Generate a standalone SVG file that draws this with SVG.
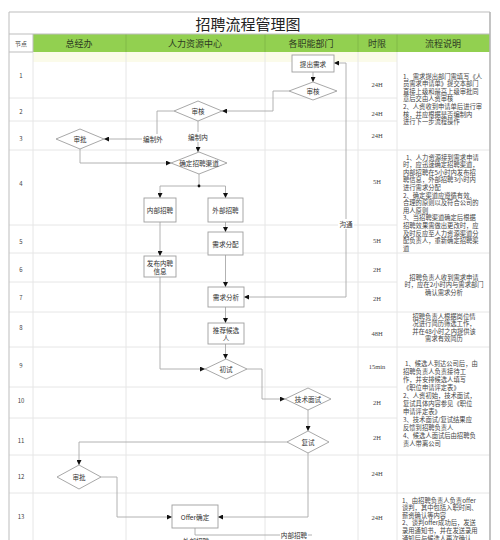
<svg xmlns="http://www.w3.org/2000/svg" width="500" height="540" viewBox="0 0 500 540">
<defs>
<style>
.grid{stroke:#e6e6e6;stroke-width:1;fill:none}
.border{stroke:#bdbdbd;stroke-width:1;fill:none}
.hdr{fill:#92d050}
.hdiv{stroke:#7fb545;stroke-width:0.8}
.ht{font-family:"Noto Sans CJK SC",sans-serif;font-size:9px;fill:#2d3a22;text-anchor:middle;dominant-baseline:central}
.title{font-family:"Noto Sans CJK SC",sans-serif;font-size:15px;fill:#222;text-anchor:middle;dominant-baseline:central}
.box{fill:#fff;stroke:#9e9e9e;stroke-width:0.9}
.nt{font-family:"Noto Sans CJK SC",sans-serif;font-size:6.6px;fill:#333;text-anchor:middle;dominant-baseline:central}
.conn{fill:none;stroke:#a9a9a9;stroke-width:0.9}
.lbl{font-family:"Noto Sans CJK SC",sans-serif;font-size:6.6px;fill:#333;text-anchor:middle;dominant-baseline:central}
.num{font-family:"Noto Sans CJK SC",sans-serif;font-size:6px;fill:#444;text-anchor:middle;dominant-baseline:central}
.tm{font-family:"Liberation Serif",serif;font-size:6.5px;fill:#444;text-anchor:middle;dominant-baseline:central}
.d{font-family:"Noto Sans CJK SC",sans-serif;font-size:6.3px;fill:#444;dominant-baseline:central}
.dc{font-family:"Noto Sans CJK SC",sans-serif;font-size:6.3px;fill:#444;dominant-baseline:central;text-anchor:middle}
</style>
<marker id="ar" viewBox="0 0 10 10" refX="10" refY="5" markerWidth="5" markerHeight="5" markerUnits="userSpaceOnUse" orient="auto-start-reverse">
<path d="M0,0 L10,5 L0,10 z" fill="#111"/>
</marker>
</defs>

<rect width="500" height="540" fill="#fff"/>

<g id="table">
<rect x="33" y="52" width="364" height="10" fill="#fbfbea"/>
<rect class="hdr" x="33" y="34" width="457" height="18"/>
<g class="grid">
<path d="M33 52V540M126 52V540M265 52V540M358 52V540M397 52V540"/>
<path d="M9 98H397M9 121H397M9 150H397M9 225H397M9 253H397M9 282H397M9 312H397M9 347H397M9 387H397M9 418H397M9 455H397M9 493H397"/>
<path d="M397 150H490M397 253H490M397 312H490M397 347H490M397 455H490M397 493H490"/>
</g>
<path class="hdiv" d="M126 34V52M265 34V52M358 34V52M397 34V52"/>
<path class="border" d="M9 12H490M9 34H490M9 52H33"/>
<path class="border" d="M9 12V540M33 34V52"/>
<path d="M490 12V540" stroke="#b5b5b5" stroke-width="1.6"/>
<text class="title" x="248" y="23">招聘流程管理图</text>
<text class="num" x="21" y="43">节点</text>
<text class="ht" x="79" y="43">总经办</text>
<text class="ht" x="195" y="43">人力资源中心</text>
<text class="ht" x="311" y="43">各职能部门</text>
<text class="ht" x="377" y="43">时限</text>
<text class="ht" x="443" y="43">流程说明</text>
</g>

<g id="rownumbers">
<text class="num" x="21" y="75">1</text>
<text class="num" x="21" y="111">2</text>
<text class="num" x="21" y="138">3</text>
<text class="num" x="21" y="183">4</text>
<text class="num" x="21" y="241">5</text>
<text class="num" x="21" y="269">6</text>
<text class="num" x="21" y="297">7</text>
<text class="num" x="21" y="327">8</text>
<text class="num" x="21" y="365">9</text>
<text class="num" x="21" y="400">10</text>
<text class="num" x="21" y="440">11</text>
<text class="num" x="21" y="476">12</text>
<text class="num" x="21" y="516">13</text>
</g>

<g id="timelimits">
<text class="tm" x="377" y="84">24H</text>
<text class="tm" x="377" y="113">24H</text>
<text class="tm" x="377" y="135">24H</text>
<text class="tm" x="377" y="181">5H</text>
<text class="tm" x="377" y="240">5H</text>
<text class="tm" x="377" y="269">2H</text>
<text class="tm" x="377" y="298">2H</text>
<text class="tm" x="377" y="333">48H</text>
<text class="tm" x="377" y="366">15min</text>
<text class="tm" x="377" y="402">2H</text>
<text class="tm" x="377" y="437">2H</text>
<text class="tm" x="377" y="473">24H</text>
<text class="tm" x="377" y="517">24H</text>
</g>

<g id="descriptions">
<text class="d" x="403" y="76">1、需求提出部门需填写《人</text>
<text class="d" x="403" y="83.6">员需求申请单》提交本部门</text>
<text class="d" x="403" y="91.2">直接上级和最高上级审批同</text>
<text class="d" x="403" y="98.8">意后交由人资审核</text>
<text class="d" x="403" y="106.4">2、人资收到申请单后进行审</text>
<text class="d" x="403" y="114">核，并应根据是否编制内</text>
<text class="d" x="403" y="121.6">进行下一步流程操作</text>

<text class="d" x="406" y="157">1、人力资源接到需求申请</text>
<text class="d" x="403" y="164.6">时，应迅速确定招聘渠道，</text>
<text class="d" x="403" y="172.2">内部招聘在5小时内发布招</text>
<text class="d" x="403" y="179.8">聘信息，外部招聘3小时内</text>
<text class="d" x="403" y="187.4">进行需求分配</text>
<text class="d" x="403" y="195">2、确定渠道应遵循有效、</text>
<text class="d" x="403" y="202.6">合理的原则以及符合公司的</text>
<text class="d" x="403" y="210.2">用人原则</text>
<text class="d" x="403" y="217.8">3、当招聘渠道确定后根据</text>
<text class="d" x="403" y="225.4">招聘效果需做出更改时，应</text>
<text class="d" x="403" y="233">及时反应至人力资源渠道分</text>
<text class="d" x="403" y="240.6">配负责人，重新确定招聘渠</text>
<text class="d" x="403" y="248.2">道</text>

<text class="dc" x="444" y="277">招聘负责人收到需求申请</text>
<text class="dc" x="444" y="284.6">时，应在2小时内与需求部门</text>
<text class="dc" x="444" y="292.2">确认需求分析</text>

<text class="dc" x="444" y="316">招聘负责人根据岗位情</text>
<text class="dc" x="444" y="323.5">况进行简历筛选工作，</text>
<text class="dc" x="444" y="331">并在48小时之内提供该</text>
<text class="dc" x="444" y="338.5">需求有效简历</text>

<text class="d" x="405" y="363">1、候选人到达公司后，由</text>
<text class="d" x="403" y="371">招聘负责人负责接待工</text>
<text class="d" x="403" y="379">作，并安排候选人填写</text>
<text class="d" x="403" y="387">《职位申请评定表》</text>
<text class="d" x="403" y="395">2、人资初始，技术面试，</text>
<text class="d" x="403" y="403">复试具体内容参见《职位</text>
<text class="d" x="403" y="411">申请评定表》</text>
<text class="d" x="403" y="419">3、技术面试/复试结果应</text>
<text class="d" x="403" y="427">反馈到招聘负责人</text>
<text class="d" x="403" y="435">4、候选人面试后由招聘负</text>
<text class="d" x="403" y="443">责人带离公司</text>

<text class="d" x="402" y="500">1、由招聘负责人负责offer</text>
<text class="d" x="402" y="507.6">谈判，其中包括入职时间、</text>
<text class="d" x="402" y="515.2">薪资确认等内容</text>
<text class="d" x="402" y="522.8">2、谈判offer成功后，发送</text>
<text class="d" x="402" y="530.4">录用通知书，并在发送录用</text>
<text class="d" x="402" y="538">通知后与候选人再次确认</text>
</g>

<g id="connectors">
<path class="conn" d="M313 72V82" marker-end="url(#ar)"/>
<path class="conn" d="M289 91H273V111H222" marker-end="url(#ar)"/>
<path class="conn" d="M174 111H157V139H104" marker-end="url(#ar)"/>
<path class="conn" d="M198 121V152" marker-end="url(#ar)"/>
<path class="conn" d="M80 149V163H171" marker-end="url(#ar)"/>
<path class="conn" d="M199 174V186M160 186H225.5"/>
<circle cx="199" cy="186" r="1.4" fill="#111"/>
<path class="conn" d="M160 186V198" marker-end="url(#ar)"/>
<path class="conn" d="M225.5 186V198" marker-end="url(#ar)"/>
<path class="conn" d="M225.5 222V232" marker-end="url(#ar)"/>
<path class="conn" d="M225.5 255V287" marker-end="url(#ar)"/>
<path class="conn" d="M244 297H346V63H334" marker-start="url(#ar)" marker-end="url(#ar)"/>
<path class="conn" d="M160 222V256" marker-end="url(#ar)"/>
<path class="conn" d="M160 277V369H205" marker-end="url(#ar)"/>
<path class="conn" d="M225.5 307V323" marker-end="url(#ar)"/>
<path class="conn" d="M225.5 344V359" marker-end="url(#ar)"/>
<path class="conn" d="M247 369H262V399H285" marker-end="url(#ar)"/>
<path class="conn" d="M308 410V431" marker-end="url(#ar)"/>
<path class="conn" d="M287 442H79V465" marker-end="url(#ar)"/>
<path class="conn" d="M101 477H117V517H172" marker-end="url(#ar)"/>
<path class="conn" d="M308 453V517H218" marker-end="url(#ar)"/>
<path class="conn" d="M195 528V535H312"/>
<rect x="142" y="134" width="23" height="10" fill="#fff"/>
<text class="lbl" x="153" y="139">编制外</text>
<rect x="187" y="132" width="23" height="10" fill="#fff"/>
<text class="lbl" x="198" y="137">编制内</text>
<rect x="338" y="219" width="16" height="10" fill="#fff"/>
<text class="lbl" x="346" y="224">沟通</text>
<rect x="280" y="530" width="28" height="10" fill="#fff"/>
<text class="lbl" x="294" y="535">内部招聘</text>
<text class="lbl" x="196" y="541">外部招聘</text>
</g>

<g id="n_tichuxuqiu"><rect class="box" x="292" y="55" width="42" height="17"/><text class="nt" x="313" y="63.5">提出需求</text></g>
<g id="n_shenhe_dept"><polygon class="box" points="289,91 313,82 337,91 313,100"/><text class="nt" x="313" y="91">审核</text></g>
<g id="n_shenhe_hr"><polygon class="box" points="174,111 198,101 222,111 198,121"/><text class="nt" x="198" y="111">审核</text></g>
<g id="n_shenpi1"><polygon class="box" points="56,139 80,129 104,139 80,149"/><text class="nt" x="80" y="139">审批</text></g>
<g id="n_queding"><polygon class="box" points="171,163 199,152 227,163 199,174"/><text class="nt" x="199" y="163">确定招聘渠道</text></g>
<g id="n_neibu"><rect class="box" x="144" y="198" width="32" height="24"/><text class="nt" x="160" y="210">内部招聘</text></g>
<g id="n_waibu"><rect class="box" x="208" y="198" width="35" height="24"/><text class="nt" x="225.5" y="210">外部招聘</text></g>
<g id="n_fenpei"><rect class="box" x="208" y="232" width="35" height="23"/><text class="nt" x="225.5" y="243.5">需求分配</text></g>
<g id="n_fabu"><rect class="box" x="144" y="256" width="32" height="21"/><text class="nt" x="160" y="262.5">发布内聘</text><text class="nt" x="160" y="271">信息</text></g>
<g id="n_fenxi"><rect class="box" x="208" y="287" width="36" height="20"/><text class="nt" x="226" y="297">需求分析</text></g>
<g id="n_tuijian"><rect class="box" x="208" y="323" width="36" height="21"/><text class="nt" x="226" y="329.5">推荐候选</text><text class="nt" x="226" y="338">人</text></g>
<g id="n_chushi"><polygon class="box" points="205,369 226,359 247,369 226,379"/><text class="nt" x="226" y="369">初试</text></g>
<g id="n_jishu"><polygon class="box" points="285,399 308,388 331,399 308,410"/><text class="nt" x="308" y="399">技术面试</text></g>
<g id="n_fushi"><polygon class="box" points="287,442 308,431 329,442 308,453"/><text class="nt" x="308" y="442">复试</text></g>
<g id="n_shenpi2"><polygon class="box" points="57,477 79,465 101,477 79,489"/><text class="nt" x="79" y="477">审批</text></g>
<g id="n_offer"><rect class="box" x="172" y="505" width="46" height="23"/><text class="nt" x="195" y="516.5">Offer确定</text></g>
</svg>
